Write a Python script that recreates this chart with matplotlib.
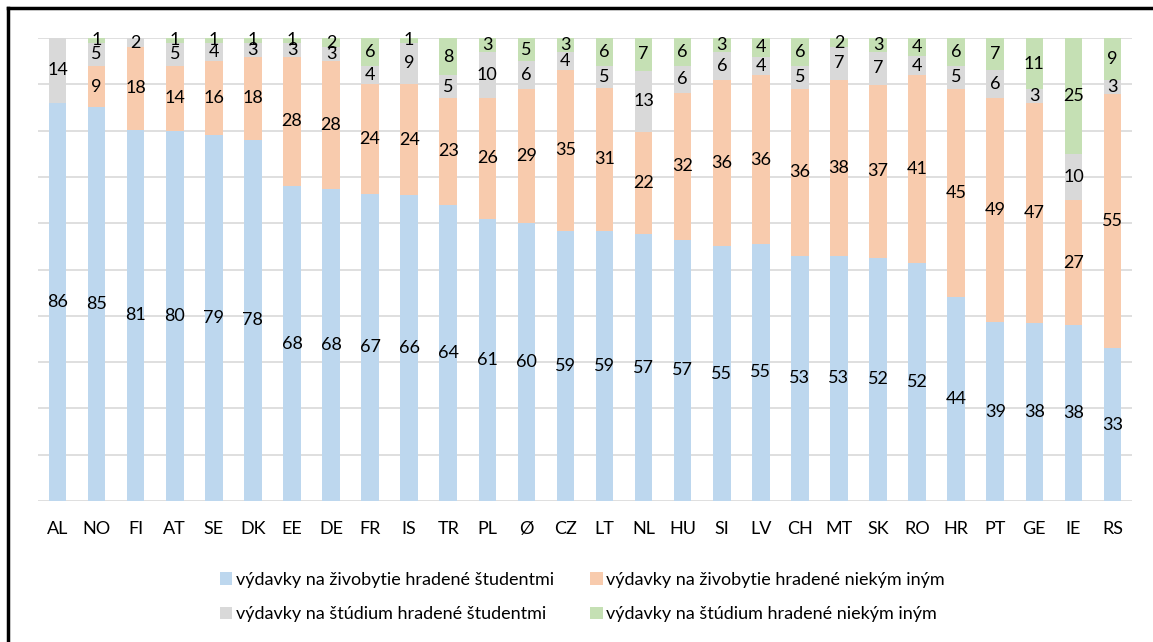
import matplotlib
matplotlib.use("Agg")
import matplotlib.pyplot as plt
import numpy as np
from matplotlib.lines import Line2D
from matplotlib.patches import Patch

plt.rcParams['font.family'] = ['Lato', 'DejaVu Sans']

categories = ["AL", "NO", "FI", "AT", "SE", "DK", "EE", "DE", "FR", "IS", "TR", "PL", "Ø", "CZ",
              "LT", "NL", "HU", "SI", "LV", "CH", "MT", "SK", "RO", "HR", "PT", "GE", "IE", "RS"]
living_self = [86, 85, 81, 80, 79, 78, 68, 68, 67, 66, 64, 61, 60, 59,
               59, 57, 57, 55, 55, 53, 53, 52, 52, 44, 39, 38, 38, 33]
living_other = [0, 9, 18, 14, 16, 18, 28, 28, 24, 24, 23, 26, 29, 35,
                31, 22, 32, 36, 36, 36, 38, 37, 41, 45, 49, 47, 27, 55]
study_self = [14, 5, 2, 5, 4, 3, 3, 3, 4, 9, 5, 10, 6, 4,
              5, 13, 6, 6, 4, 5, 7, 7, 4, 5, 6, 3, 10, 3]
study_other = [0, 1, 0, 1, 1, 1, 1, 2, 6, 1, 8, 3, 5, 3,
               6, 7, 6, 3, 4, 6, 2, 3, 4, 6, 7, 11, 25, 9]
series_names = ["výdavky na živobytie hradené študentmi",
                "výdavky na živobytie hradené niekým iným",
                "výdavky na štúdium hradené študentmi",
                "výdavky na štúdium hradené niekým iným"]
colors = ["#BDD7EE", "#F8CBAD", "#D9D9D9", "#C5E0B4"]

data = np.array([living_self, living_other, study_self, study_other], dtype=float)
totals = data.sum(axis=0)
pct = data / totals * 100

fig = plt.figure(figsize=(11.53, 6.42), dpi=100)
ax = fig.add_axes([38 / 1153, 1 - 501 / 642, (1132 - 38) / 1153, (501 - 38) / 642])

x = np.arange(len(categories))
bottom = np.zeros(len(categories))
for i in range(4):
    ax.bar(x, pct[i], bottom=bottom, width=0.45, color=colors[i], edgecolor='none', zorder=2)
    for j in range(len(categories)):
        v = data[i, j]
        if v > 0:
            ax.text(x[j], bottom[j] + pct[i, j] / 2, f"{int(v)}", ha='center', va='center',
                    fontsize=13, color='#000000', zorder=3)
    bottom += pct[i]

ax.set_xlim(-0.5, len(categories) - 0.5)
ax.set_ylim(0, 100)
ax.set_yticks(np.arange(0, 101, 10))
ax.yaxis.grid(True, color='#D9D9D9', linewidth=1.2, zorder=0)
ax.set_axisbelow(True)
ax.tick_params(axis='y', left=False, labelleft=False)
ax.tick_params(axis='x', bottom=False, labelsize=13, pad=11, colors='#000000')
ax.set_xticks(x)
ax.set_xticklabels(categories)
for s in ax.spines.values():
    s.set_visible(False)

handles = [Patch(facecolor=c, edgecolor='none') for c in colors]
order = [0, 2, 1, 3]
fig.legend([handles[k] for k in order], [series_names[k] for k in order],
           loc='center', bbox_to_anchor=(0.505, 1 - 597 / 642), ncol=2,
           frameon=False, fontsize=13, handlelength=0.7, handleheight=0.7, handletextpad=0.2,
           columnspacing=2.0, labelspacing=1.05)

# figure border (left and top visible)
fig.add_artist(Line2D([8 / 1153, 8 / 1153], [0, 1 - 8 / 642], transform=fig.transFigure,
                      color='black', linewidth=2.5))
fig.add_artist(Line2D([8 / 1153, 1], [1 - 8 / 642, 1 - 8 / 642], transform=fig.transFigure,
                      color='black', linewidth=2.5))

fig.savefig("out.png", dpi=100)
